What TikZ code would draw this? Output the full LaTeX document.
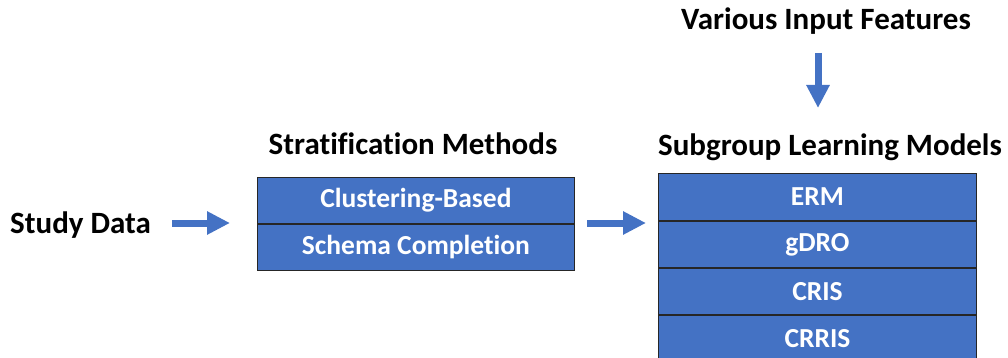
\documentclass[tikz,border=0pt]{standalone}
\usepackage{fontspec}
\setmainfont{Carlito}[Ligatures=NoCommon]
\usetikzlibrary{arrows.meta}
\definecolor{officeblue}{HTML}{4472C4}
\tikzset{
  heading/.style={font=\bfseries\fontsize{31}{36}\selectfont, inner sep=0pt},
  cell/.style={draw=black!85, line width=0.9pt, fill=officeblue, text=white,
    font=\bfseries\fontsize{27.5}{32}\selectfont, inner sep=0pt, anchor=north west},
  flow/.style={officeblue, line width=7pt, -{Triangle[length=23pt,width=22pt]}}
}
\begin{document}
\begin{tikzpicture}[x=1pt,y=-1pt]
  \useasboundingbox (0,0) rectangle (1008,358);
  % input and headings
  \node[heading, anchor=west] (study) at (10,225) {Study Data};
  \node[heading] (strat) at (413,144) {Stratification Methods};
  \node[heading] (sub) at (830,147) {Subgroup Learning Models};
  \node[heading] (feat) at (826,21) {Various Input Features};
  % stratification methods
  \node[cell, minimum width=317pt, minimum height=46pt] (clu) at (257,177) {Clustering-Based};
  \node[cell, minimum width=317pt, minimum height=46pt] (sch) at (clu.south west) {Schema Completion};
  % subgroup learning models
  \node[cell, minimum width=318pt, minimum height=47pt] (erm) at (658,173) {ERM};
  \node[cell, minimum width=318pt, minimum height=46pt] (gdro) at (erm.south west) {gDRO};
  \node[cell, minimum width=318pt, minimum height=46pt] (cris) at (gdro.south west) {CRIS};
  \node[cell, minimum width=318pt, minimum height=47pt] (crris) at (cris.south west) {CRRIS};
  % arrows
  \coordinate (a1s) at (172,223);
  \coordinate (a1e) at (230,223);
  \coordinate (a2s) at (587,223);
  \coordinate (a2e) at (646,223);
  \coordinate (a3s) at (818,53);
  \coordinate (a3e) at (818,108);
  \draw[flow] (a1s) -- (a1e);
  \draw[flow] (a2s) -- (a2e);
  \draw[flow] (a3s) -- (a3e);
\end{tikzpicture}
\end{document}
